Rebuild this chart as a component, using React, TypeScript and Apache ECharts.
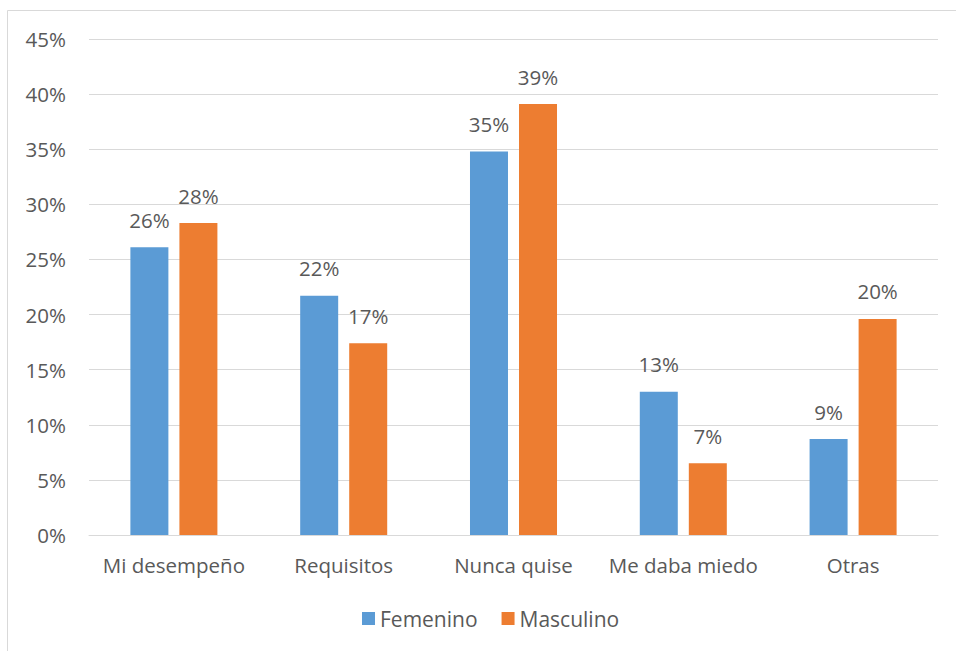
import React, { useEffect, useRef } from "react";
import * as echarts from "echarts";

const categories = ["Mi desempeño", "Requisitos", "Nunca quise", "Me daba miedo", "Otras"];
const femenino = [26.1, 21.7, 34.8, 13.0, 8.7];
const masculino = [28.3, 17.4, 39.1, 6.5, 19.6];
const seriesNames = ["Femenino", "Masculino"];

const FONT = "'Open Sans', 'Noto Sans', sans-serif";
const TXT = "#595959";
const FS = 20.5;

export default function App() {
  const ref = useRef<HTMLDivElement>(null);
  useEffect(() => {
    const chart = echarts.init(ref.current!, null, { renderer: "svg" });
    const label = {
      show: true,
      position: "top" as const,
      distance: 17,
      color: TXT,
      fontSize: FS,
      fontFamily: FONT,
      formatter: (p: any) => Math.round(p.value) + "%",
    };
    chart.setOption({
      animation: false,
      backgroundColor: "#fff",
      textStyle: { fontFamily: FONT },
      graphic: [
        {
          type: "rect",
          shape: { x: 7.5, y: 10.5, width: 1000, height: 700 },
          style: { fill: "none", stroke: "#d9d9d9", lineWidth: 1 },
          silent: true,
        },
      ],
      grid: { left: 89, right: 18, top: 39, bottom: 116, containLabel: false },
      legend: {
        data: seriesNames,
        bottom: 17,
        left: 357,
        itemWidth: 13,
        itemHeight: 13,
        itemGap: 24,
        icon: "rect",
        textStyle: { color: TXT, fontSize: 21, fontFamily: FONT },
      },
      xAxis: {
        type: "category",
        data: categories,
        axisLine: { lineStyle: { color: "#d9d9d9", width: 1 } },
        axisTick: { show: false },
        axisLabel: { color: TXT, fontSize: FS, fontFamily: FONT, margin: 19, interval: 0 },
      },
      yAxis: {
        type: "value",
        min: 0,
        max: 45,
        interval: 5,
        axisLine: { show: false },
        axisTick: { show: false },
        axisLabel: { color: TXT, fontSize: FS, fontFamily: FONT, margin: 23, formatter: "{value}%" },
        splitLine: { lineStyle: { color: "#d9d9d9", width: 1 } },
      },
      series: [
        {
          name: seriesNames[0],
          type: "bar",
          data: femenino,
          barWidth: 38,
          barGap: "29%",
          itemStyle: { color: "#5b9bd5" },
          label,
        },
        {
          name: seriesNames[1],
          type: "bar",
          data: masculino,
          barWidth: 38,
          itemStyle: { color: "#ed7d31" },
          label,
        },
      ],
    });
    return () => chart.dispose();
  }, []);
  return (
    <div
      ref={ref}
      style={{ position: "fixed", left: 0, top: 0, width: 956, height: 651 }}
    />
  );
}
